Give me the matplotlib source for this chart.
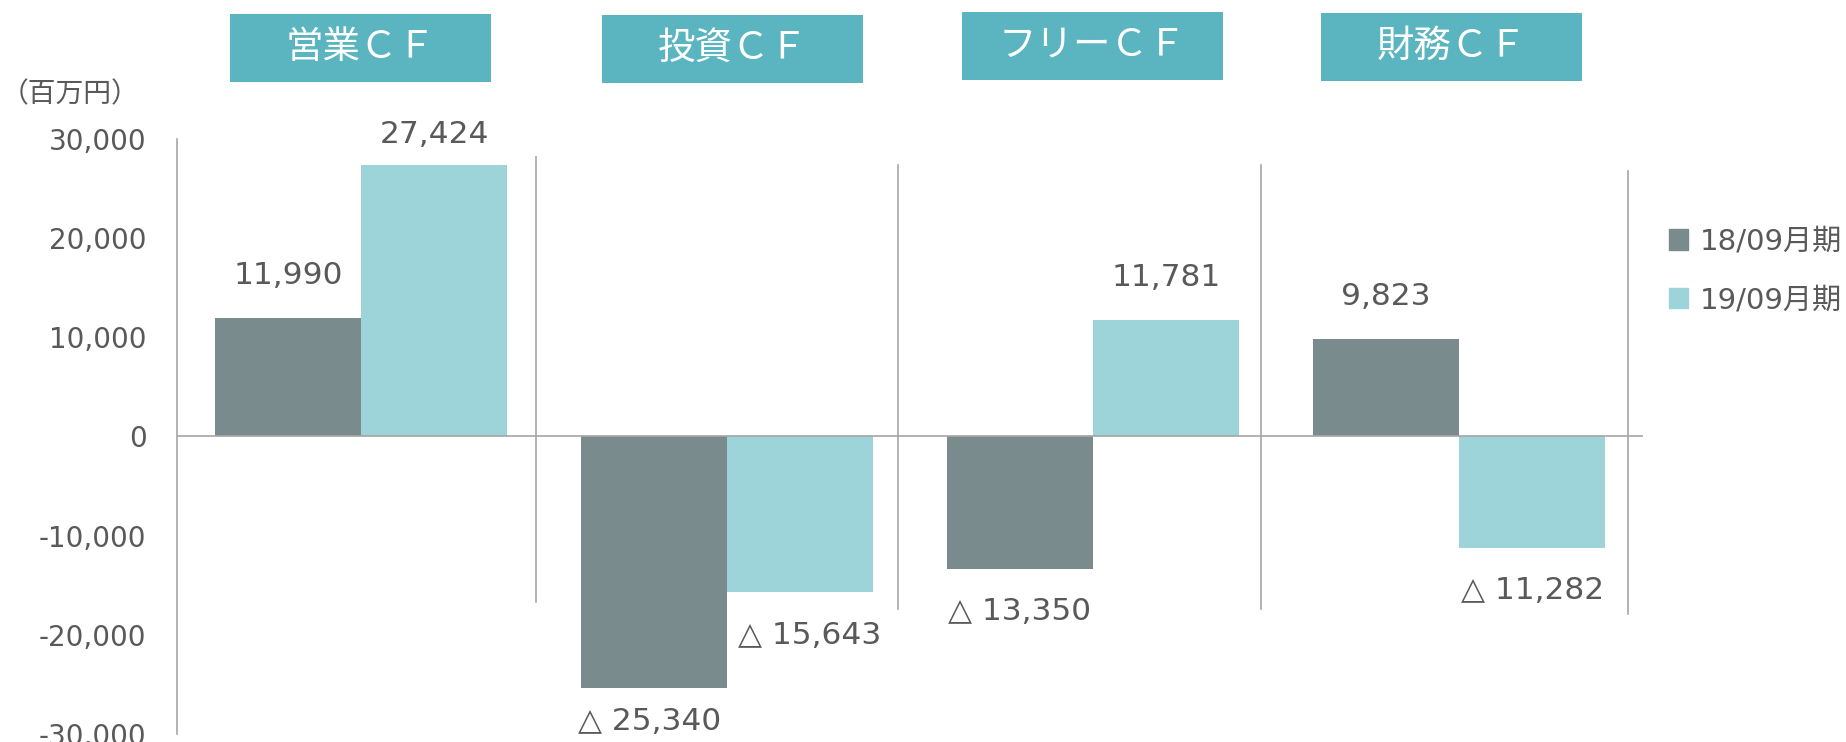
import matplotlib.pyplot as plt
from matplotlib.patches import Rectangle, Patch
import numpy as np

plt.rcParams['font.family'] = ['DejaVu Sans', 'Noto Sans CJK JP']

categories = ['営業ＣＦ', '投資ＣＦ', 'フリーＣＦ', '財務ＣＦ']
series_names = ['18/09月期', '19/09月期']
values_18 = [11990, -25340, -13350, 9823]
values_19 = [27424, -15643, 11781, -11282]
yticks = [-30000, -20000, -10000, 0, 10000, 20000, 30000]

dark = '#7A8B8D'
light = '#9DD4D9'
head = '#5BB5C0'
txt = '#595959'
grey = '#A6A6A6'

W, H = 1846, 742
fig = plt.figure(figsize=(W / 100, H / 100), dpi=100)
ax = fig.add_axes([177 / W, 0.0108, (1643 - 177) / W, 0.8019])

x = np.arange(len(categories))
bw = 0.4
b1 = ax.bar(x - bw / 2, values_18, bw, color=dark, label=series_names[0])
b2 = ax.bar(x + bw / 2, values_19, bw, color=light, label=series_names[1])


def lab(v):
    if v < 0:
        return '△ ' + format(-v, ',')
    return format(v, ',')


# label offsets in points (distance from the bar end, sideways shift)
dy_18 = [30.5, 24.5, 30.5, 30.5]
dy_19 = [21.6, 31.7, 30.5, 30.5]
dx_18 = [0, -3, 0, 0]
dx_19 = [0, 7, 0, 0]
for bars, vals, dys, dxs in ((b1, values_18, dy_18, dx_18), (b2, values_19, dy_19, dx_19)):
    for r, v, dy, dx in zip(bars, vals, dys, dxs):
        off = dy if v > 0 else -dy
        ax.annotate(lab(v), (r.get_x() + r.get_width() / 2, v),
                    xytext=(dx, off), textcoords='offset points',
                    ha='center', va='center', fontsize=22.5, color=txt)

# separators between the groups
sep_x = [0.478, 1.467, 2.459, 3.462]
sep_top = [28200, 27400, 27400, 26800]
sep_bot = [-16700, -17400, -17400, -17900]
for sx, t, b in zip(sep_x, sep_top, sep_bot):
    ax.plot([sx, sx], [b, t], color=grey, lw=1.2)

ax.axhline(0, color=grey, lw=1.2)
ax.set_xlim(-0.503, 3.503)
ax.set_ylim(-30000, 30000)
ax.set_yticks(yticks)
ax.set_yticklabels([format(t, ',') for t in yticks])
ax.tick_params(axis='y', length=0, pad=22, labelsize=20, labelcolor=txt)
ax.set_xticks([])
for s in ['top', 'right', 'bottom']:
    ax.spines[s].set_visible(False)
ax.spines['left'].set_color(grey)
ax.spines['left'].set_linewidth(1.2)

# header boxes
box_left = [230, 602, 962, 1321]
box_top = [14, 15, 12, 13]
bw_px, bh_px = 261, 68
for name, bl, bt in zip(categories, box_left, box_top):
    fig.add_artist(Rectangle((bl / W, 1 - (bt + bh_px) / H), bw_px / W, bh_px / H,
                             transform=fig.transFigure, color=head, lw=0))
    fig.text((bl + bw_px / 2) / W, 1 - (bt + bh_px / 2) / H, name,
             ha='center', va='center', fontsize=27, color='white')

fig.text(1 / W, 1 - 94 / H, '（百万円）', ha='left', va='center', fontsize=20, color=txt)

handles = [Patch(color=dark), Patch(color=light)]
fig.legend(handles, series_names, loc='center left', bbox_to_anchor=(1669 / W, 1 - 271 / H),
           frameon=False, fontsize=21, labelcolor=txt, handlelength=0.65, handleheight=0.7,
           handletextpad=0.4, labelspacing=1.05, borderpad=0, borderaxespad=0)

fig.savefig('out.png', dpi=100)
